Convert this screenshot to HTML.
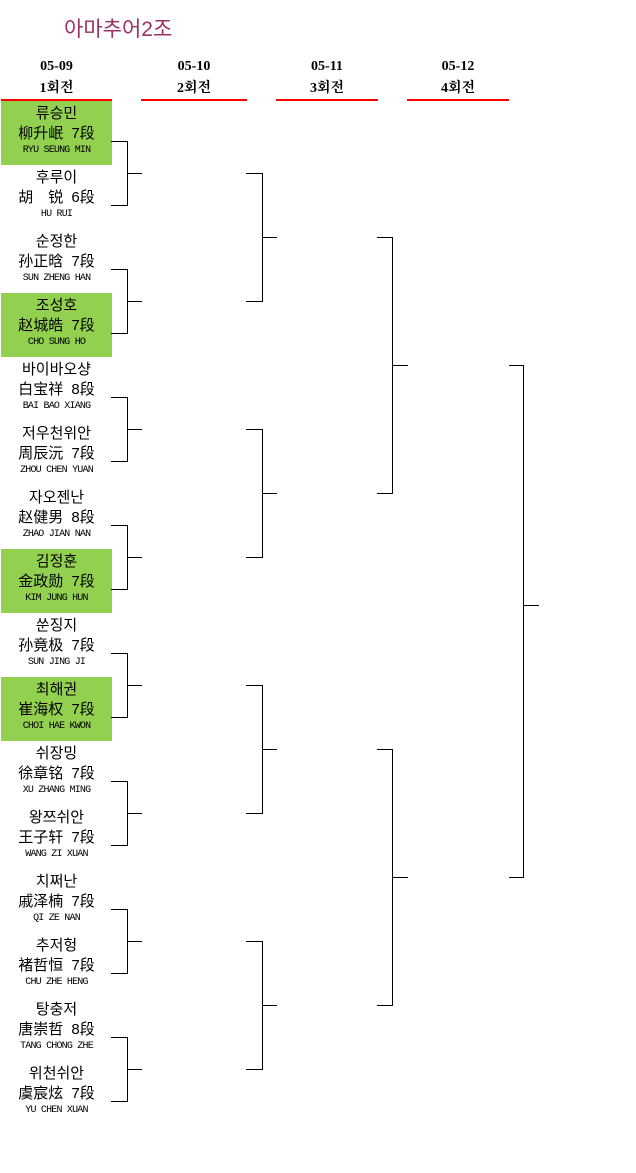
<!DOCTYPE html><html><head><meta charset="utf-8"><style>
body{margin:0;width:636px;height:1173px;background:#fff;position:relative;overflow:hidden;font-family:"Liberation Sans","Noto Sans CJK KR",sans-serif;color:#000}
.a{position:absolute}
.t{position:absolute;left:64px;top:13px;font-size:21px;color:#993366;font-family:"Liberation Sans","Noto Sans CJK KR",sans-serif}
.h{position:absolute;text-align:center;font-weight:bold;font-size:14px;line-height:22px;font-family:"Liberation Serif","Noto Serif CJK SC",serif}
.p{position:absolute;left:1px;width:111px;height:64px;text-align:center}
.g{background:#92d050}
.k{position:absolute;left:0;width:111px;top:3px;font-size:15px;line-height:20px}
.c{position:absolute;left:0;width:111px;top:23px;font-size:15px;line-height:20px;font-family:"Liberation Sans","Noto Sans CJK SC",sans-serif;word-spacing:4px}
.r{position:absolute;left:0;width:111px;top:44px;font-size:10px;line-height:12px;font-family:"Liberation Mono",monospace;letter-spacing:-0.8px}
</style></head><body>
<div class="t">아마추어2조</div>
<div class="h" style="left:1px;width:111px;top:56px">05-09<br>1회전</div>
<div class="h" style="left:141px;width:106px;top:56px">05-10<br>2회전</div>
<div class="h" style="left:276px;width:102px;top:56px">05-11<br>3회전</div>
<div class="h" style="left:407px;width:102px;top:56px">05-12<br>4회전</div>
<div class="a" style="left:1px;top:99px;width:111px;height:2px;background:#f00"></div>
<div class="a" style="left:141px;top:99px;width:106px;height:2px;background:#f00"></div>
<div class="a" style="left:276px;top:99px;width:102px;height:2px;background:#f00"></div>
<div class="a" style="left:407px;top:99px;width:102px;height:2px;background:#f00"></div>
<div id="pl"></div>
<svg class="a" style="left:0;top:0" width="636" height="1173" id="sv"></svg>
<script>
var P=[["류승민","柳升岷","7段","RYU SEUNG MIN",1],["후루이","胡　锐","6段","HU RUI",0],["순정한","孙正晗","7段","SUN ZHENG HAN",0],["조성호","赵城皓","7段","CHO SUNG HO",1],["바이바오샹","白宝祥","8段","BAI BAO XIANG",0],["저우천위안","周辰沅","7段","ZHOU CHEN YUAN",0],["자오젠난","赵健男","8段","ZHAO JIAN NAN",0],["김정훈","金政勋","7段","KIM JUNG HUN",1],["쑨징지","孙竟极","7段","SUN JING JI",0],["최해권","崔海权","7段","CHOI HAE KWON",1],["쉬장밍","徐章铭","7段","XU ZHANG MING",0],["왕쯔쉬안","王子轩","7段","WANG ZI XUAN",0],["치쩌난","戚泽楠","7段","QI ZE NAN",0],["추저헝","褚哲恒","7段","CHU ZHE HENG",0],["탕충저","唐崇哲","8段","TANG CHONG ZHE",0],["위천쉬안","虞宸炫","7段","YU CHEN XUAN",0]];
var h="";P.forEach(function(p,i){h+='<div class="p'+(p[4]?' g':'')+'" style="top:'+(101+64*i)+'px"><div class="k">'+p[0]+'</div><div class="c">'+p[1]+' '+p[2]+'</div><div class="r">'+p[3]+'</div></div>'});
document.getElementById("pl").innerHTML=h;
var s="";function br(x0,x1,x2,top,bot,m){if(m===undefined)m=(top+bot)/2;s+='<path d="M'+x0+' '+(top+.5)+'H'+(x1+.5)+'V'+(bot+.5)+'H'+x0+'M'+(x1+.5)+' '+(m+.5)+'H'+x2+'" fill="none" stroke="#000" stroke-width="1"/>';}
for(var k=0;k<8;k++)br(111,127,142,141+128*k,205+128*k);
for(k=0;k<4;k++)br(246,262,277,173+256*k,301+256*k);
for(k=0;k<2;k++)br(377,392,408,237+512*k,493+512*k);
br(509,523,539,365,877,605);
document.getElementById("sv").innerHTML=s;
</script>
</body></html>
